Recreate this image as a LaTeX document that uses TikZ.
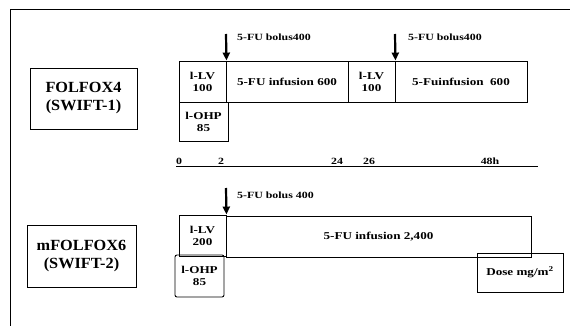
\documentclass[tikz,border=0pt]{standalone}
\usepackage{fontspec}
\setmainfont{Liberation Serif}
\newfontfamily\widefont[FakeStretch=1.25]{Liberation Serif}
\newfontfamily\midfont[FakeStretch=1.05]{Liberation Serif}
\usetikzlibrary{arrows.meta}
\begin{document}
\begin{tikzpicture}[x=1pt,y=-1pt,
  box/.style={draw=black, line width=0.9pt, inner sep=0pt, align=center, font=\widefont\bfseries\fontsize{10.5}{12}\selectfont},
  bigbox/.style={draw=black, line width=0.9pt, inner sep=0pt, align=center, font=\midfont\bfseries\fontsize{15.5}{18}\selectfont},
  lbl/.style={inner sep=0pt, anchor=west, font=\widefont\bfseries\fontsize{9.5}{10}\selectfont},
  tick/.style={inner sep=0pt, anchor=south, font=\widefont\bfseries\fontsize{9.5}{10}\selectfont},
  bolus/.style={line width=2.2pt, -{Triangle[width=7pt,length=8pt]}}]
\useasboundingbox (0,0) rectangle (570,326);
% outer frame (top and left edges)
\draw[line width=1pt] (570,10) -- (10,10) -- (10,326);
% FOLFOX4
\node[bigbox, minimum width=107pt, minimum height=61pt] (f4) at (83.5,98.5) {FOLFOX4\\(SWIFT-1)};
\node[box, minimum width=47pt, minimum height=41pt] (lv1) at (202.5,81.5) {l-LV\\100};
\node[box, minimum width=122pt, minimum height=41pt] (inf1) at (287,81.5) {5-FU infusion 600};
\node[box, minimum width=47pt, minimum height=41pt] (lv2) at (371.5,81.5) {l-LV\\100};
\node[box, minimum width=132pt, minimum height=41pt] (inf2) at (461,81.5) {5-Fuinfusion\ \ 600};
\node[box, minimum width=49pt, minimum height=39pt] (ox1) at (203.5,121.5) {l-OHP\\85};
\coordinate (a1s) at (226,34);
\coordinate (a2s) at (395,34);
\draw[bolus] (a1s) -- (lv1.north east);
\draw[bolus] (a2s) -- (lv2.north east);
\node[lbl] (b1) at (237,37) {5-FU bolus400};
\node[lbl] (b2) at (408,37) {5-FU bolus400};
% time axis
\coordinate (t0) at (176,166);
\coordinate (t1) at (538,166);
\draw[line width=0.8pt] (t0) -- (t1);
\node[tick] (n0) at (179,165) {0};
\node[tick] (n2) at (221,165) {2};
\node[tick] (n24) at (337,165) {24};
\node[tick] (n26) at (369,165) {26};
\node[tick] (n48) at (490,165) {48h};
% mFOLFOX6
\node[bigbox, minimum width=109pt, minimum height=62pt] (f6) at (81.5,256) {mFOLFOX6\\(SWIFT-2)};
\node[box, minimum width=47pt, minimum height=41pt] (lv3) at (202.5,235.5) {l-LV\\200};
\node[box, minimum width=305pt, minimum height=41pt] (inf3) at (378.5,236.5) {5-FU infusion 2,400};
\node[box, minimum width=49pt, minimum height=42pt, rounded corners=2pt] (ox2) at (199.5,276) {l-OHP\\85};
\coordinate (a3s) at (226,188);
\draw[bolus] (a3s) -- (lv3.north east);
\node[lbl] (b3) at (237,195) {5-FU bolus 400};
% legend
\node[box, minimum width=86pt, minimum height=39pt] (dose) at (520,272.5) {Dose mg/m\textsuperscript{2}};
\end{tikzpicture}
\end{document}
